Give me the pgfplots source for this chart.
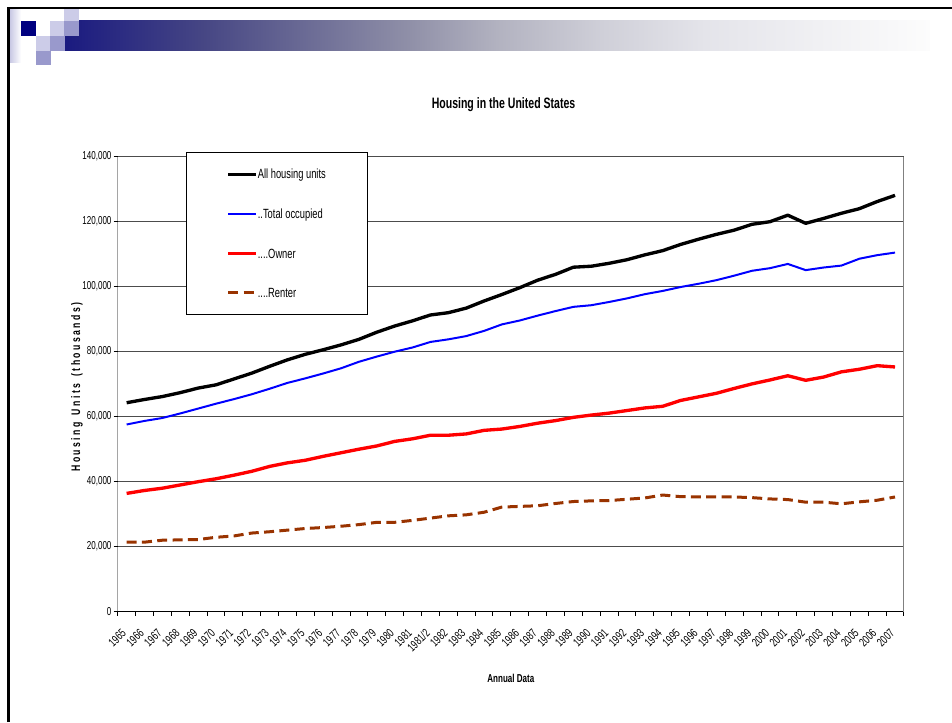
\documentclass[border=0pt]{standalone}
\usepackage{pgfplots}
\usepackage{pgfplotstable}
\pgfplotsset{compat=1.18}
\usepackage{fontspec}
\setmainfont{Liberation Sans}[FakeStretch=0.7]
\definecolor{navy}{HTML}{000080}
\definecolor{lav}{HTML}{CCCCE8}
\definecolor{lavm}{HTML}{9999CC}
\definecolor{lavS}{HTML}{C4C4E2}
\definecolor{rentc}{HTML}{993300}
\definecolor{gA}{HTML}{1A1A80}
\definecolor{gB}{HTML}{464684}
\definecolor{gC}{HTML}{6B6B95}
\definecolor{gD}{HTML}{9090A8}
\definecolor{gE}{HTML}{B2B2C0}
\definecolor{gF}{HTML}{CFCFD8}
\definecolor{gG}{HTML}{E4E4EA}
\definecolor{gH}{HTML}{FCFCFC}
\pgfdeclarehorizontalshading{barshade}{100bp}{color(0bp)=(gA); color(25bp)=(gA); color(33bp)=(gB); color(39bp)=(gC); color(45bp)=(gD); color(50bp)=(gE); color(56bp)=(gF); color(62bp)=(gG); color(75bp)=(gH); color(100bp)=(gH)}

\pgfplotstableread{
x all occ owner renter
0 64300 57600 36400 21400
1 65300 58700 37300 21400
2 66200 59600 38000 22000
3 67400 61000 39000 22100
4 68800 62500 40000 22200
5 69800 64000 40900 22900
6 71600 65400 42000 23300
7 73400 66900 43200 24200
8 75500 68600 44700 24600
9 77500 70400 45800 25100
10 79200 71800 46600 25600
11 80600 73300 47800 25900
12 82100 74900 48900 26300
13 83800 76900 50000 26800
14 86000 78500 51000 27500
15 87900 80000 52400 27500
16 89500 81300 53200 28100
17 91300 83000 54300 28800
18 92000 83800 54300 29500
19 93400 84800 54700 29800
20 95600 86400 55800 30600
21 97600 88400 56200 32200
22 99700 89600 57000 32400
23 102000 91100 58000 32600
24 103800 92500 58800 33300
25 106000 93800 59800 33900
26 106300 94300 60500 34100
27 107200 95300 61100 34200
28 108300 96400 61900 34600
29 109800 97700 62700 35000
30 111100 98700 63200 35900
31 113000 99900 65000 35400
32 114600 100900 66100 35300
33 116100 102000 67200 35300
34 117400 103400 68700 35300
35 119200 104900 70100 35100
36 120000 105700 71300 34700
37 122000 107000 72600 34500
38 119500 105100 71200 33700
39 121000 105900 72200 33700
40 122600 106500 73800 33200
41 124000 108600 74600 33800
42 126200 109700 75700 34300
43 128100 110500 75300 35300
}\housing

\begin{document}
\begin{tikzpicture}[x=0.75pt,y=0.75pt]
\path[use as bounding box] (0,0) rectangle (952,722);
% slide decoration
\shade[shading=barshade] (64,671.3) rectangle (930,701.3);
\shade[left color=lavS, right color=white] (9,659) rectangle (21,713);
\fill[lav] (64,701.3) rectangle (79,713);
\fill[navy] (21,686.3) rectangle (35.5,701.3);
\fill[lav] (50,686.3) rectangle (64.5,701.3);
\fill[lavm] (64,686.3) rectangle (79,701.3);
\fill[lav] (35.5,671.3) rectangle (50,686.3);
\fill[lavm] (50,671.3) rectangle (65,686.3);
\fill[lavm] (35.5,657) rectangle (51,671.3);
\draw[black, line width=2pt] (8.5,0) -- (8.5,714) -- (952,714);
\coordinate (axSW) at (117.7,110.3);
\begin{axis}[
  at={(axSW)}, anchor=south west,
  scale only axis, width=589.7pt, height=341.25pt,
  xmin=-0.5, xmax=43.5, ymin=0, ymax=140000,
  axis line style={draw=none},
  scaled y ticks=false,
  /pgf/number format/assume math mode=true,
  ytick={0,20000,40000,60000,80000,100000,120000,140000},
  yticklabels={0,{20,000},{40,000},{60,000},{80,000},{100,000},{120,000},{140,000}},
  xtick={0,...,43},
  xticklabels={1965,1966,1967,1968,1969,1970,1971,1972,1973,1974,1975,1976,1977,1978,1979,1980,1981,1981/2,1982,1983,1984,1985,1986,1987,1988,1989,1990,1991,1992,1993,1994,1995,1996,1997,1998,1999,2000,2001,2002,2003,2004,2005,2006,2007},
  minor xtick={-0.5,0.5,...,43.5},
  tick align=outside, tick pos=left,
  major tick length=3pt, minor tick length=3pt,
  major x tick style={draw=none},
  tick style={black, line width=0.75pt},
  ymajorgrids, major grid style={black!70, line width=0.6pt},
  yticklabel style={font=\fontsize{8.6}{10}\selectfont, inner sep=0pt, xshift=-1.5pt},
  xticklabel style={font=\fontsize{9}{10}\selectfont, inner sep=0pt, xshift=-2pt, yshift=-11.5pt, rotate=45, anchor=east},
  title={Housing in the United States},
  title style={font=\bfseries\fontsize{11.3}{13}\selectfont, at={(axis description cs:0.4907,1.096)}, anchor=center, yshift=0pt},
  xlabel={Annual Data},
  xlabel style={font=\bfseries\fontsize{8.6}{10}\selectfont, at={(axis description cs:0.5,-0.1457)}, anchor=center},
  ylabel={H o u s i n g\ \ \ U n i t s\ \ \ ( t h o u s a n d s )},
  ylabel style={font=\bfseries\fontsize{9.3}{10}\selectfont, at={(axis description cs:-0.0518,0.4934)}, anchor=center},
  legend style={at={(0.0869,1.0103)}, anchor=north west, draw=black, line width=0.75pt, fill=white,
    inner xsep=30pt, inner ysep=12.65pt, row sep=22.5pt, column sep=0pt,
    font=\fontsize{10}{12}\selectfont, nodes={inner sep=0pt, text height=7.2pt, text depth=0pt}},
  legend cell align=left,
  legend image code/.code={\draw[#1] (0pt,0pt) -- (21pt,0pt);},
]
\addplot[black, line width=2.5pt, line join=round] table[x=x, y=all] {\housing};
\addlegendentry{\makebox[52.5pt][l]{All housing units}}
\addplot[blue, line width=1.5pt, line join=round] table[x=x, y=occ] {\housing};
\addlegendentry{\makebox[52.5pt][l]{..Total occupied}}
\addplot[red, line width=2.5pt, line join=round] table[x=x, y=owner] {\housing};
\addlegendentry{\makebox[52.5pt][l]{....Owner}}
\addplot[rentc, line width=2.25pt, line join=round, dash pattern=on 7.5pt off 4pt] table[x=x, y=renter] {\housing};
\addlegendentry{\makebox[52.5pt][l]{....Renter}}
\draw[black, line width=0.75pt] (rel axis cs:0,1) -- (rel axis cs:0,0) -- (rel axis cs:1,0);
\draw[black!50, line width=0.75pt] (rel axis cs:1,0) -- (rel axis cs:1,1);
\end{axis}
\end{tikzpicture}
\end{document}
